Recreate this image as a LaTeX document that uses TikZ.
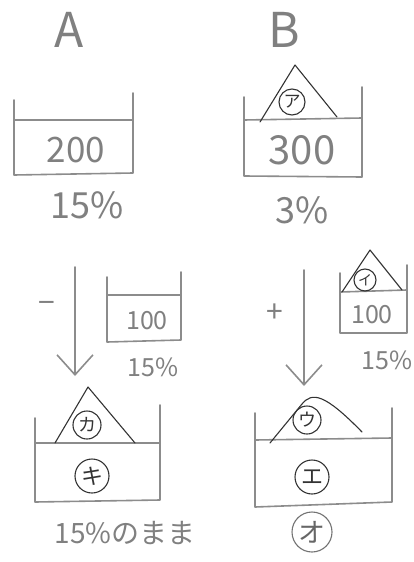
\documentclass[tikz,border=0pt]{standalone}
\usepackage{fontspec}
\setmainfont{Noto Sans CJK JP}
\usetikzlibrary{arrows.meta}
\begin{document}
\begin{tikzpicture}[x=1pt,y=-1pt,
 pencil/.style={draw=black!45, line width=1.6pt, line cap=round, line join=round},
 ink/.style={draw=black!80, line width=1.1pt, line join=round, line cap=round},
 txt/.style={text=black!50, inner sep=0pt},
 big/.style={font=\fontsize{48}{48}\selectfont},
 num/.style={font=\fontsize{35}{35}\selectfont},
 pct/.style={font=\fontsize{36}{36}\selectfont},
 small/.style={font=\fontsize{25}{25}\selectfont},
 circ/.style={circle, draw=black!80, line width=1.1pt, inner sep=0pt, text=black!80},
 flow/.style={pencil, -{Straight Barb[length=20pt,width=36pt,line width=1.6pt]}}
]
\useasboundingbox (0,0) rectangle (414,562);
% headings
\node[txt,big] (labA) at (69,30) {A};
\node[txt,big] (labB) at (284,30) {B};
% beaker A
\draw[pencil] (14,100) -- (14,175) -- (133,173) -- (133,93);
\draw[pencil] (15,120) -- (133,120);
\node[txt,num] (volA) at (76,150) {200};
\node[txt,pct] (pctA) at (87,205) {15\%};
% beaker B
\draw[pencil] (244,97) -- (244,176) -- (362,177) -- (362,87);
\draw[pencil] (244,120) -- (362,118);
\draw[ink] (260,122) -- (295,65) -- (337,117);
\node[circ, minimum size=26pt, font=\fontsize{17}{17}\selectfont] (ca) at (292,102) {ア};
\node[txt,font=\fontsize{40}{40}\selectfont] (volB) at (302,150) {300};
\node[txt,pct] (pctB) at (302,210) {3\%};
% small beaker A
\draw[pencil] (107,277) -- (107,342) -- (181,340) -- (181,272);
\draw[pencil] (107,295) -- (181,295);
\node[txt,small] (volsA) at (147,321) {100};
\node[txt,small] (pctsA) at (153,367) {15\%};
% arrow A
\coordinate (a1) at (75,267);
\coordinate (a2) at (75,376);
\draw[flow] (a1) -- (a2);
\node[txt,font=\fontsize{30}{30}\selectfont] (minus) at (47,307) {−};
% bottom beaker A
\draw[pencil] (35,418) -- (35,502) -- (160,500) -- (160,405);
\draw[pencil] (35,443) -- (160,443);
\draw[ink] (55,443) -- (88,387) -- (135,443);
\node[circ, minimum size=28pt, font=\fontsize{18}{18}\selectfont] (ck) at (87,425) {カ};
\node[circ, minimum size=34pt, font=\fontsize{22}{22}\selectfont] (cki) at (92,476) {キ};
\node[txt,font=\fontsize{28}{28}\selectfont] (remain) at (125,533) {15\%のまま};
% arrow B
\coordinate (b1) at (304,270);
\coordinate (b2) at (304,386);
\draw[flow] (b1) -- (b2);
\node[txt,font=\fontsize{30}{30}\selectfont] (plus) at (275,313) {+};
% small beaker B
\draw[pencil] (340,273) -- (340,333) -- (407,333) -- (407,265);
\draw[pencil] (340,292) -- (407,290);
\draw[ink] (342,292) -- (370,250) -- (402,290);
\node[circ, minimum size=22pt, font=\fontsize{14}{14}\selectfont] (ci) at (365,280) {イ};
\node[txt,small] (volsB) at (372,315) {100};
\node[txt,small] (pctsB) at (387,360) {15\%};
% bottom beaker B
\draw[pencil] (255,413) -- (255,507) -- (392,502) -- (392,408);
\draw[pencil] (255,440) -- (392,438);
\draw[ink] (270,443) -- (302,404) .. controls (312,392) and (324,393) .. (362,432);
\node[circ, minimum size=28pt, font=\fontsize{18}{18}\selectfont] (cu) at (307,420) {ウ};
\node[circ, minimum size=34pt, font=\fontsize{22}{22}\selectfont] (ce) at (312,477) {エ};
\node[circ, draw=black!55, text=black!60, minimum size=40pt, font=\fontsize{27}{27}\selectfont] (co) at (312,532) {オ};
\end{tikzpicture}
\end{document}
